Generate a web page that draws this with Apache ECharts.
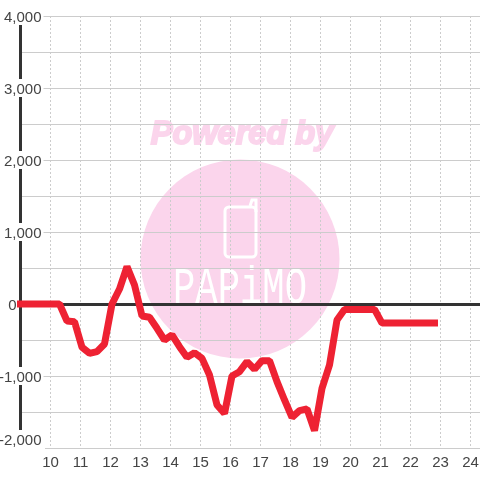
<!DOCTYPE html>
<html><head><meta charset="utf-8">
<style>html,body{margin:0;padding:0;background:#fff}#c{width:480px;height:480px}</style>
<script src="https://cdn.jsdelivr.net/npm/echarts@6/dist/echarts.min.js"></script>
</head><body><div id="c"></div>
<script>
const hours = [9,10.3,10.55,10.8,11.05,11.3,11.55,11.8,12.05,12.3,12.55,12.8,13.05,13.3,13.55,13.8,14.05,14.3,14.55,14.8,15.05,15.3,15.55,15.8,16.05,16.3,16.55,16.8,17.05,17.3,17.55,17.8,18.05,18.3,18.55,18.8,19.05,19.3,19.55,19.8,20.05,20.3,20.55,20.8,21.05,21.3,21.55,21.8,22.05,22.3,22.55,22.8];
const values = [0,0,-236,-245,-602,-685,-662,-555,0,208,520,264,-167,-185,-338,-500,-430,-593,-740,-676,-755,-986,-1403,-1520,-1000,-940,-800,-907,-787,-787,-1079,-1333,-1574,-1481,-1458,-1760,-1171,-847,-222,-75,-75,-75,-75,-75,-265,-265,-265,-265,-265,-265,-265,-265];
const yTicks = {4000:'4,000',3000:'3,000',2000:'2,000',1000:'1,000',0:'0','-1000':'-1,000','-2000':'-2,000'};
const pink = '#fbd5ec', ink = '#444';
const chart = echarts.init(document.getElementById('c'), null, {renderer:'canvas'});
chart.setOption({
  animation:false,
  backgroundColor:'#fff',
  grid:{left:20.5,right:0,top:16,bottom:32,containLabel:false,outerBoundsMode:'none'},
  graphic:[
    {type:'circle',z:-10,shape:{cx:240,cy:259,r:99.5},style:{fill:pink}},
    {type:'text',z:-10,x:242,y:135,style:{text:'Powered by',fontFamily:'Liberation Sans',fontWeight:'bold',fontStyle:'italic',fontSize:32.5,fill:pink,stroke:pink,lineWidth:2,align:'center',verticalAlign:'middle'}},
    {type:'rect',z:-9,shape:{x:225,y:207,width:31,height:50,r:4},style:{fill:null,stroke:'#fff',lineWidth:3}},
    {type:'polyline',z:-9,shape:{points:[[250,206],[252,200],[256,200],[256,212]]},style:{fill:null,stroke:'#fff',lineWidth:3}},
    {type:'text',z:-9,x:240,y:290,scaleX:1.24,scaleY:1.7,style:{text:'PAPiMO',fontFamily:'Liberation Mono',fontSize:30,fill:'#fff',align:'center',verticalAlign:'middle'}},
    {type:'rect',z:100,shape:{x:0,y:447,width:45,height:5},style:{fill:'#fff'}}
  ],
  xAxis:[{
    type:'value',min:9,max:24.3167,interval:1,
    axisLine:{show:false,onZero:false},axisTick:{show:false},
    axisLabel:{color:ink,fontFamily:'Liberation Sans',fontSize:15,margin:7,hideOverlap:false,
      formatter:v=>(v>=10&&Number.isInteger(v))?String(v):''},
    splitLine:{show:true,lineStyle:{color:'#ccc',type:[2,2],width:1}}
  },{
    type:'value',min:9,max:24.3167,interval:1,
    axisLine:{show:true,onZero:true,lineStyle:{color:'#333',width:3}},
    axisTick:{show:false},axisLabel:{show:false},splitLine:{show:false}
  }],
  yAxis:{
    type:'value',min:-2000,max:4000,interval:1000,
    axisLine:{show:true,onZero:false,lineStyle:{color:'#333',width:3}},
    axisTick:{show:false},
    minorTick:{show:false,splitNumber:2},
    minorSplitLine:{show:true,lineStyle:{color:'#ccc',width:1}},
    splitLine:{show:true,lineStyle:{color:'#ccc',width:1}},
    axisLabel:{color:ink,fontFamily:'Liberation Sans',fontSize:15,margin:-23,align:'right',verticalAlignMinLabel:'bottom',
      formatter:v=>v===0?'{z|0}{s|}':'{w|'+yTicks[v]+'}',
      rich:{w:{backgroundColor:'#fff',color:ink,fontFamily:'Liberation Sans',fontSize:15,padding:[3,2,0,2]},
            z:{color:ink,fontFamily:'Liberation Sans',fontSize:15,padding:[3,0,0,0]},s:{width:27}}}
  },
  series:[{
    type:'line',xAxisIndex:0,yAxisIndex:0,showSymbol:false,clip:false,smooth:false,z:5,
    data:hours.map((h,i)=>[h,values[i]]),
    lineStyle:{color:'#ee2233',width:7,cap:'square',join:'bevel'}
  }]
});
</script></body></html>
